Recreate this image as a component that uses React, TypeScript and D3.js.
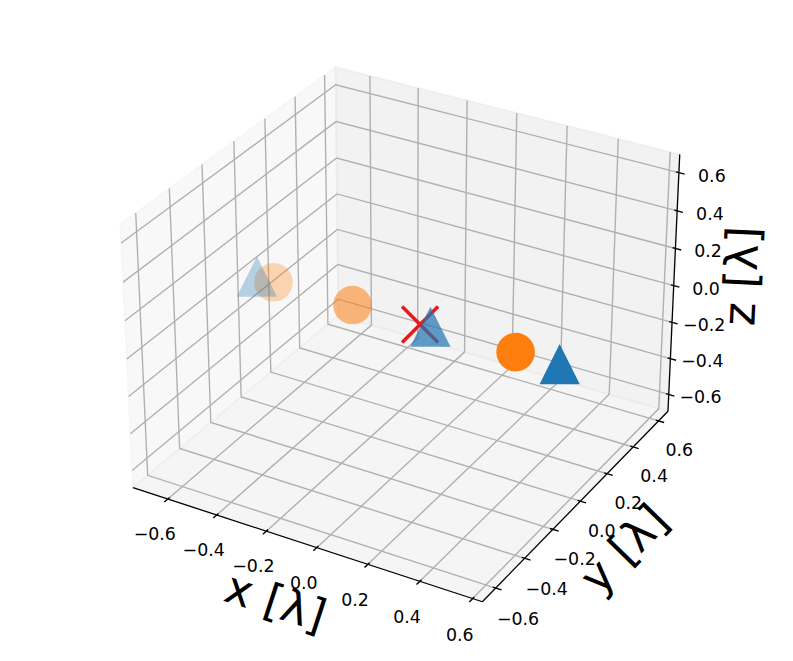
import React, { useEffect, useRef } from "react";
import * as d3 from "d3";

const WIDTH = 793;
const HEIGHT = 661;

// axis limits in wavelengths (the panes get an extra 1/48 on each side)
const xLimits = [-0.717, 0.609];
const yLimits = [-0.663, 0.648];
const zLimits = [-0.667, 0.667];

const xTicks = [-0.6, -0.4, -0.2, 0.0, 0.2, 0.4, 0.6];
const yTicks = [-0.6, -0.4, -0.2, 0.0, 0.2, 0.4, 0.6];
const zTicks = [-0.6, -0.4, -0.2, 0.0, 0.2, 0.4, 0.6];

const axisNames = ["x [λ]", "y [λ]", "z [λ]"];

// blue triangles
const triX = [-0.664, 0.041, 0.543];
const triY = [0.0, 0.0, 0.0];
const triZ = [0.0, 0.0, 0.0];

// orange circles
const circX = [-0.595, -0.271, 0.374];
const circY = [0.0, 0.0, 0.0];
const circZ = [0.0, 0.0, 0.0];

// red cross at the origin
const crossX = [0.0];
const crossY = [0.0];
const crossZ = [0.0];

// figure / view settings (matplotlib-like)
const DPI = 125;
const AX_LEFT = 86;
const AX_TOP = 19;
const AX_SIZE = 622;
const ELEV = 30;
const AZIM = -60;
const DIST = 10;
const TICK_FONT = 17.4;
const LABEL_FONT = 45;
const MARKER_PX = 36;

const DegToRad = (angle) => angle * (Math.PI / 180);
const dot = (a, b) => a[0] * b[0] + a[1] * b[1] + a[2] * b[2];
const cross = (a, b) => [
  a[1] * b[2] - a[2] * b[1],
  a[2] * b[0] - a[0] * b[2],
  a[0] * b[1] - a[1] * b[0],
];
const unit = (a) => {
  const n = Math.hypot(a[0], a[1], a[2]);
  return a.map((c) => c / n);
};

// view axes, same recipe as mpl's get_proj
const boxNorm = Math.hypot(4, 4, 3);
const boxAspect = [4, 4, 3].map((v) => (v * 1.8294640721620434) / boxNorm);
const centre = boxAspect.map((v) => v / 2);
const el = DegToRad(ELEV);
const az = DegToRad(AZIM);
const ps = [Math.cos(el) * Math.cos(az), Math.cos(el) * Math.sin(az), Math.sin(el)];
const eye = centre.map((c, i) => c + DIST * ps[i]);
const wAx = unit(eye.map((c, i) => c - centre[i]));
const uAx = unit(cross([0, 0, 1], wAx));
const vAx = cross(wAx, uAx);

const xWorld = d3.scaleLinear().domain(xLimits).range([0, boxAspect[0]]);
const yWorld = d3.scaleLinear().domain(yLimits).range([0, boxAspect[1]]);
const zWorld = d3.scaleLinear().domain(zLimits).range([0, boxAspect[2]]);

const screenX = d3.scaleLinear().domain([-0.95 / DIST, 0.9 / DIST]).range([AX_LEFT, AX_LEFT + AX_SIZE]);
const screenY = d3.scaleLinear().domain([-0.95 / DIST, 0.9 / DIST]).range([AX_TOP + AX_SIZE, AX_TOP]);

const Project = (x, y, z) => {
  const p = [xWorld(x), yWorld(y), zWorld(z)];
  const d = p.map((c, i) => c - eye[i]);
  const vx = dot(uAx, d);
  const vy = dot(vAx, d);
  const vz = dot(wAx, d);
  // perspective with focal length 1
  return { x: screenX(vx / -vz), y: screenY(vy / -vz), depth: DIST / vz };
};

const P = (pt) => {
  const r = Project(pt[0], pt[1], pt[2]);
  return [r.x, r.y];
};

const fmt = d3.format(".1f");

const App = () => {
  const svgRef = useRef(null);

  useEffect(() => {
    const svg = d3.select(svgRef.current);
    svg.selectAll("*").remove();

    const limits = [xLimits, yLimits, zLimits];
    const ticks = [xTicks, yTicks, zTicks];
    const deltas = limits.map((l) => (l[1] - l[0]) / 12);
    const lo = limits.map((l, i) => l[0] - 0.25 * deltas[i]);
    const hi = limits.map((l, i) => l[1] + 0.25 * deltas[i]);
    const mid = limits.map((l) => (l[0] + l[1]) / 2);
    const [x0, y0, z0] = lo;
    const [x1, y1, z1] = hi;

    const deltasPerPoint = 48 / (72 * 2 * (AX_SIZE / DPI));
    const tickShift = (3.5 + 8) * deltasPerPoint;
    const labelShift = (4 + 21) * deltasPerPoint;

    const line = d3.line();

    // panes
    const panes = [
      { pts: [[x0, y0, z0], [x0, y1, z0], [x0, y1, z1], [x0, y0, z1]], grey: 0.95 },
      { pts: [[x0, y1, z0], [x1, y1, z0], [x1, y1, z1], [x0, y1, z1]], grey: 0.9 },
      { pts: [[x0, y0, z0], [x1, y0, z0], [x1, y1, z0], [x0, y1, z0]], grey: 0.925 },
    ];
    panes.forEach((p) => {
      const g = Math.round(p.grey * 255);
      svg.append("path")
        .attr("d", line(p.pts.map(P)) + "Z")
        .attr("fill", `rgb(${g},${g},${g})`)
        .attr("fill-opacity", 0.5)
        .attr("stroke", `rgb(${g},${g},${g})`)
        .attr("stroke-opacity", 0.5)
        .attr("stroke-width", 1.7);
    });

    // gridlines
    const grids = [];
    xTicks.forEach((t) => grids.push([[t, y0, z0], [t, y1, z0], [t, y1, z1]]));
    yTicks.forEach((t) => grids.push([[x1, t, z0], [x0, t, z0], [x0, t, z1]]));
    zTicks.forEach((t) => grids.push([[x0, y0, t], [x0, y1, t], [x1, y1, t]]));
    grids.forEach((g) => {
      svg.append("path")
        .attr("d", line(g.map(P)))
        .attr("fill", "none")
        .attr("stroke", "#b0b0b0")
        .attr("stroke-width", 1.39);
    });

    // axes: index, base point of the edge, tick direction
    const axes = [
      { i: 0, base: [0, y0, z0], tickdir: 1 },
      { i: 1, base: [x1, 0, z0], tickdir: 0 },
      { i: 2, base: [x1, y1, 0], tickdir: 0 },
    ];

    axes.forEach((a) => {
      const i = a.i;
      const sign = a.base.map((b, k) => (b - mid[k] >= 0 ? 1 : -1));
      const e1 = a.base.slice();
      const e2 = a.base.slice();
      e1[i] = lo[i];
      e2[i] = hi[i];
      const p1 = P(e1);
      const p2 = P(e2);

      svg.append("line")
        .attr("x1", p1[0]).attr("y1", p1[1])
        .attr("x2", p2[0]).attr("y2", p2[1])
        .attr("stroke", "black")
        .attr("stroke-width", 1.3);

      const k = a.tickdir;
      ticks[i].forEach((t) => {
        const tOut = a.base.slice();
        const tIn = a.base.slice();
        tOut[i] = t;
        tIn[i] = t;
        tOut[k] = a.base[k] + sign[k] * 0.2 * deltas[k];
        tIn[k] = a.base[k] - sign[k] * 0.1 * deltas[k];
        const q1 = P(tOut);
        const q2 = P(tIn);
        svg.append("line")
          .attr("x1", q1[0]).attr("y1", q1[1])
          .attr("x2", q2[0]).attr("y2", q2[1])
          .attr("stroke", "black")
          .attr("stroke-width", 1.39);

        const lp = a.base.slice();
        lp[i] = t;
        [0, 1, 2].forEach((m) => {
          if (m !== i) lp[m] = a.base[m] + sign[m] * tickShift * deltas[m];
        });
        const q = P(lp);
        svg.append("text")
          .attr("x", q[0])
          .attr("y", q[1] + 0.76 * TICK_FONT)
          .attr("text-anchor", "middle")
          .attr("font-family", "DejaVu Sans")
          .attr("font-size", TICK_FONT)
          .attr("fill", "black")
          .text(fmt(t));
      });

      // axis label
      const lab = a.base.slice();
      lab[i] = (lo[i] + hi[i]) / 2;
      [0, 1, 2].forEach((m) => {
        if (m !== i) lab[m] = a.base[m] + sign[m] * labelShift * deltas[m];
      });
      const lq = P(lab);
      let angle = (Math.atan2(-(p2[1] - p1[1]), p2[0] - p1[0]) * 180) / Math.PI;
      angle = (((angle + 180) % 180) + 180) % 180;
      if (angle > 90) angle -= 180;
      svg.append("text")
        .attr("transform", `translate(${lq[0]},${lq[1]}) rotate(${-angle})`)
        .attr("dy", "0.28em")
        .attr("text-anchor", "middle")
        .attr("font-family", "DejaVu Sans")
        .attr("font-size", LABEL_FONT)
        .attr("fill", "black")
        .text(axisNames[i]);
    });

    // scatter collections with depth shading
    const collections = [
      { xs: triX, ys: triY, zs: triZ, marker: "triangle", colour: "#1f77b4" },
      { xs: circX, ys: circY, zs: circZ, marker: "circle", colour: "#ff7f0e" },
      { xs: crossX, ys: crossY, zs: crossZ, marker: "cross", colour: "#e41a1c" },
    ].map((c) => {
      const pts = c.xs.map((x, j) => Project(x, c.ys[j], c.zs[j]));
      const dmin = d3.min(pts, (p) => p.depth);
      const dmax = d3.max(pts, (p) => p.depth);
      pts.forEach((p) => {
        const n = dmax > dmin ? (p.depth - dmin) / (dmax - dmin) : 0;
        p.alpha = 1 - 0.7 * n;
      });
      pts.sort((a, b) => b.depth - a.depth);
      return { ...c, pts, near: dmin };
    });
    collections.sort((a, b) => b.near - a.near);

    const h = MARKER_PX / 2;
    collections.forEach((c) => {
      c.pts.forEach((p) => {
        const g = svg.append("g")
          .attr("transform", `translate(${p.x},${p.y})`)
          .attr("opacity", p.alpha);
        if (c.marker === "triangle") {
          g.append("path")
            .attr("d", `M0,${-h}L${-h},${h}L${h},${h}Z`)
            .attr("fill", c.colour)
            .attr("stroke", c.colour)
            .attr("stroke-width", 2.6)
            .attr("stroke-linejoin", "miter");
        } else if (c.marker === "circle") {
          g.append("circle")
            .attr("r", h)
            .attr("fill", c.colour)
            .attr("stroke", c.colour)
            .attr("stroke-width", 2.6);
        } else {
          g.append("path")
            .attr("d", `M${-h},${-h}L${h},${h}M${-h},${h}L${h},${-h}`)
            .attr("fill", "none")
            .attr("stroke", c.colour)
            .attr("stroke-width", 3.5);
        }
      });
    });
  }, []);

  return (
    <svg
      ref={svgRef}
      width={WIDTH}
      height={HEIGHT}
      style={{ position: "absolute", left: 0, top: 0, background: "white" }}
    />
  );
};

export default App;
